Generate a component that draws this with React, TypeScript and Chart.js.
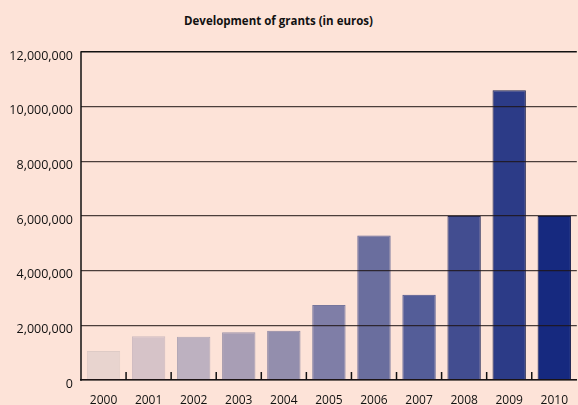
import React, { useEffect, useRef } from "react";
import { Chart, registerables } from "chart.js";

Chart.register(...registerables);

const TITLE = "Development of grants (in euros)";
const YEARS = ["2000", "2001", "2002", "2003", "2004", "2005", "2006", "2007", "2008", "2009", "2010"];
const GRANTS = [1060000, 1600000, 1580000, 1750000, 1800000, 2740000, 5290000, 3120000, 6000000, 10600000, 6000000];
const BAR_COLORS = [
  "#e8d4cf", "#d6c3c8", "#bdb1c0", "#a89eb5", "#938ead", "#7f7ea7",
  "#6a6e9e", "#545d98", "#424d90", "#2c3b87", "#16297f",
];
const BORDER_COLORS = [
  "#decbc6", "#cdbabf", "#b3a8b6", "#9e94aa", "#8a84a2", "#76769c",
  "#5f6292", "#4a528c", "#262c5c", "#1c224e", "#111a4a",
];
const Y_MAX = 12000000;
const Y_STEP = 2000000;

const BG = "#fde3d8";
const FONT = "'Open Sans', sans-serif";

const frame = {
  id: "frame",
  afterDraw(chart: any) {
    const { ctx, chartArea, scales } = chart;
    const x = scales.x;
    const n = YEARS.length;
    const w = (chartArea.right - chartArea.left) / n;
    ctx.save();
    ctx.strokeStyle = "#111";
    ctx.lineWidth = 1.5;
    for (let i = 1; i < n; i++) {
      const px = x.getPixelForValue(i) - w / 2;
      ctx.beginPath();
      ctx.moveTo(px, chartArea.bottom);
      ctx.lineTo(px, chartArea.bottom - 8);
      ctx.stroke();
    }
    ctx.beginPath();
    ctx.moveTo(chartArea.left, chartArea.top - 0.75);
    ctx.lineTo(chartArea.left, chartArea.bottom + 0.75);
    ctx.stroke();
    ctx.restore();
  },
};

export default function App() {
  const ref = useRef<HTMLCanvasElement>(null);
  useEffect(() => {
    const chart = new Chart(ref.current!, {
      type: "bar",
      data: {
        labels: YEARS,
        datasets: [
          {
            data: GRANTS,
            backgroundColor: BAR_COLORS,
            borderColor: BORDER_COLORS,
            borderWidth: 1,
            barPercentage: 0.74,
            categoryPercentage: 1,
          },
        ],
      },
      options: {
        responsive: false,
        animation: false,
        layout: { padding: { top: 52, left: 0, right: 0, bottom: 0 } },
        plugins: { legend: { display: false }, title: { display: false }, tooltip: { enabled: false } },
        scales: {
          x: {
            afterFit: (s: any) => { s.height = 25; },
            grid: { display: false, drawTicks: false },
            border: { display: true, color: "#111", width: 1.5 },
            ticks: { padding: 13, color: "#111", font: { family: FONT, size: 12 } },
          },
          y: {
            min: 0,
            max: Y_MAX,
            afterFit: (s: any) => { s.width = 81; },
            grid: {
              z: 1,
              drawTicks: false,
              color: (c: any) => (c.tick && c.tick.value === Y_MAX ? "#111" : "rgba(30,20,20,0.8)"),
              lineWidth: (c: any) => (c.tick && c.tick.value === Y_MAX ? 1.5 : 1.3),
            },
            border: { display: false },
            ticks: {
              stepSize: Y_STEP,
              padding: 8,
              labelOffset: 4,
              color: "#111",
              font: { family: FONT, size: 12.5 },
              callback: (v: any) => Number(v).toLocaleString("en-US"),
            },
          },
        },
      },
      plugins: [frame],
    });
    return () => chart.destroy();
  }, []);

  return (
    <div style={{ position: "absolute", left: 0, top: 0, width: 578, height: 405, overflow: "hidden", background: BG }}>
      <div
        style={{
          position: "absolute",
          left: 0,
          width: 557,
          top: 13,
          textAlign: "center",
          fontFamily: FONT,
          fontWeight: 700,
          fontSize: 11.5,
          color: "#111",
        }}
      >
        {TITLE}
      </div>
      <canvas ref={ref} width={581} height={405} style={{ position: "absolute", left: 0, top: 0 }} />
    </div>
  );
}
